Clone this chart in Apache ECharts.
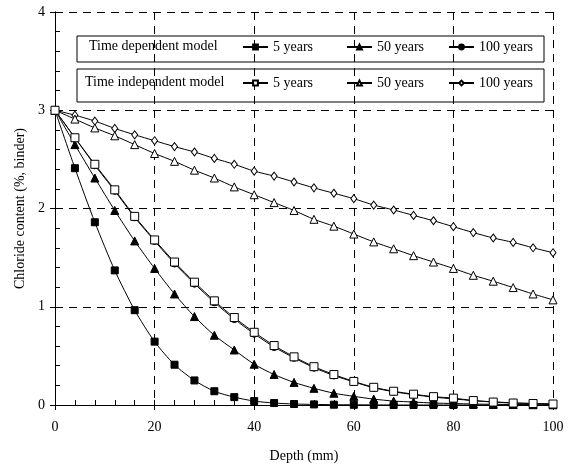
<!DOCTYPE html>
<html><head><meta charset="utf-8">
<script src="https://cdn.jsdelivr.net/npm/echarts@6/dist/echarts.min.js"></script>
<style>html,body{margin:0;padding:0;background:#fff}#c{width:572px;height:468px}</style>
</head><body><div id="c"></div>
<script>
const depth = [0,4,8,12,16,20,24,28,32,36,40,44,48,52,56,60,64,68,72,76,80,84,88,92,96,100];
const td5   = [3.0,2.41,1.86,1.37,0.965,0.645,0.41,0.25,0.14,0.08,0.04,0.02,0.01,0.006,0.003,0.002,0.001,0,0,0,0,0,0,0,0,0];
const td50  = [3.0,2.65,2.31,1.98,1.67,1.39,1.13,0.90,0.71,0.56,0.415,0.31,0.23,0.17,0.12,0.088,0.06,0.04,0.03,0.02,0.015,0.01,0.007,0.005,0.003,0.002];
const td100 = [3.0,2.72,2.44,2.18,1.91,1.67,1.44,1.235,1.045,0.875,0.725,0.59,0.48,0.38,0.30,0.235,0.175,0.135,0.105,0.08,0.062,0.045,0.032,0.022,0.015,0.01];
const ti5   = [3.0,2.72,2.45,2.19,1.92,1.68,1.455,1.25,1.06,0.89,0.74,0.605,0.49,0.39,0.31,0.24,0.18,0.14,0.11,0.085,0.07,0.045,0.03,0.02,0.015,0.01];
const ti50  = [3.0,2.91,2.82,2.74,2.65,2.56,2.48,2.39,2.31,2.22,2.14,2.06,1.98,1.89,1.82,1.74,1.66,1.59,1.52,1.455,1.39,1.32,1.26,1.195,1.13,1.07];
const ti100 = [3.0,2.95,2.89,2.815,2.75,2.69,2.63,2.575,2.51,2.45,2.38,2.33,2.27,2.21,2.155,2.10,2.035,1.985,1.93,1.875,1.815,1.755,1.70,1.655,1.60,1.55];
const groupLabels = ['Time dependent model','Time independent model'];
const itemLabels = ['5 years','50 years','100 years'];
const xTitle = 'Depth (mm)';
const yTitle = 'Chloride content (%, binder)';

const FONT = 'Liberation Serif';
const pairs = arr => depth.map((d,i)=>[d,arr[i]]);
function mk(name, arr, symbol, size, filled){
  return {name, type:'line', data:pairs(arr), smooth:0.25, symbol, symbolSize:size,
    lineStyle:{color:'#000',width:1}, itemStyle:{color: filled?'#000':'#fff', borderColor:'#000', borderWidth:1},
    emphasis:{disabled:true}, animation:false, z: filled?3:4};
}
const series = [
  mk('TI|100 years', ti100, 'diamond', [6,8], false),
  mk('TI|50 years', ti50, 'triangle', 8, false),
  mk('TD|100 years', td100, 'circle', 7, true),
  mk('TI|5 years', ti5, 'rect', 8, false),
  mk('TD|50 years', td50, 'triangle', 8, true),
  mk('TD|5 years', td5, 'rect', 7, true)
];
const legLeft = [242, 346, 448];
const legends = [];
['TD','TI'].forEach((g,gi)=>{
  itemLabels.forEach((lab,li)=>{
    legends.push({data:[g+'|'+lab], left:legLeft[li], top: gi===0?40:76, padding:0,
      itemWidth:25, itemHeight:6, selectedMode:false,
      formatter: n=>n.split('|')[1],
      textStyle:{fontFamily:FONT,fontSize:14,color:'#000'}});
  });
});
const chart = echarts.init(document.getElementById('c'),null,{renderer:'canvas'});
chart.setOption({
  animation:false,
  backgroundColor:'#fff',
  grid:{left:55,right:19,top:12,bottom:61},
  legend: legends,
  xAxis:[
    {type:'value',min:0,max:100,interval:20,
     name:xTitle,nameLocation:'middle',nameGap:44,nameTextStyle:{fontFamily:FONT,fontSize:14,color:'#000'},
     axisLine:{onZero:false,lineStyle:{color:'#000',width:1}},
     axisTick:{show:true,inside:false,length:5,lineStyle:{color:'#000'}},
     axisLabel:{fontFamily:FONT,fontSize:14,color:'#000',margin:15},
     splitLine:{show:true,lineStyle:{color:'#000',type:[8,6],width:1}}},
    {type:'value',min:0,max:100,interval:4,position:'bottom',
     axisLine:{show:false},axisTick:{show:true,inside:true,length:5,lineStyle:{color:'#000'}},
     axisLabel:{show:false},splitLine:{show:false}}
  ],
  yAxis:[
    {type:'value',min:0,max:4,interval:1,
     name:yTitle,nameLocation:'middle',nameGap:28,nameTextStyle:{fontFamily:FONT,fontSize:14,color:'#000'},
     axisLine:{show:true,onZero:false,lineStyle:{color:'#000',width:1}},
     axisTick:{show:true,inside:false,length:5,lineStyle:{color:'#000'}},
     axisLabel:{fontFamily:FONT,fontSize:14,color:'#000',margin:10},
     splitLine:{show:true,lineStyle:{color:'#000',type:[8,6],width:1}}},
    {type:'value',min:0,max:4,interval:0.2,position:'left',
     axisLine:{show:false},axisTick:{show:true,inside:true,length:5,lineStyle:{color:'#000'}},
     axisLabel:{show:false},splitLine:{show:false}},
    {type:'value',min:0,max:4,interval:1,position:'right',
     axisLine:{show:true,lineStyle:{color:'#000',width:1}},axisTick:{show:false},
     axisLabel:{show:false},splitLine:{show:false}}
  ],
  graphic:[
    {type:'rect',shape:{x:225,y:36,width:319,height:66},style:{fill:'#fff'},z:-1,silent:true},
    {type:'rect',shape:{x:77,y:36,width:467,height:26},style:{fill:'none',stroke:'#000',lineWidth:1},silent:true},
    {type:'rect',shape:{x:77,y:69,width:467,height:33},style:{fill:'none',stroke:'#000',lineWidth:1},silent:true},
    {type:'text',left:89,top:39,style:{text:groupLabels[0],font:'14px "Liberation Serif"',fill:'#000'},silent:true},
    {type:'text',left:85,top:75,style:{text:groupLabels[1],font:'14px "Liberation Serif"',fill:'#000'},silent:true}
  ],
  series: series
});
</script></body></html>
